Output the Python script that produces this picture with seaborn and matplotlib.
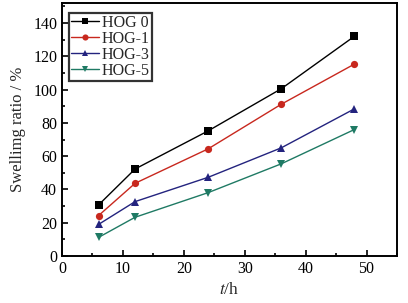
import matplotlib
matplotlib.use("Agg")
import matplotlib.pyplot as plt
import seaborn as sns
import pandas as pd
from matplotlib.ticker import MultipleLocator

# swelling data
t_h = [6, 12, 24, 36, 48]
hog0 = [30.7, 52.3, 75.2, 100.5, 132.0]
hog1 = [24.3, 43.7, 64.4, 91.2, 115.3]
hog3 = [19.0, 32.7, 47.3, 65.0, 88.4]
hog5 = [11.2, 23.3, 38.1, 55.4, 76.0]
names = ["HOG 0", "HOG-1", "HOG-3", "HOG-5"]

rows = []
for name, vals in zip(names, [hog0, hog1, hog3, hog5]):
    for t, v in zip(t_h, vals):
        rows.append({"t": t, "ratio": v, "sample": name})
df = pd.DataFrame(rows)

sns.set_style("ticks")
plt.rcParams["font.family"] = ["Liberation Serif", "DejaVu Serif"]
plt.rcParams["mathtext.fontset"] = "stix"

fig = plt.figure(figsize=(4.08, 3.03), dpi=100)
ax = fig.add_axes([0.152, 0.155, 0.821, 0.835])

palette = {"HOG 0": "#000000", "HOG-1": "#c8281e", "HOG-3": "#23237e", "HOG-5": "#1f7a64"}
markers = {"HOG 0": "s", "HOG-1": "o", "HOG-3": "^", "HOG-5": "v"}
sns.lineplot(data=df, x="t", y="ratio", hue="sample", style="sample",
             palette=palette, markers=markers, dashes=False,
             markersize=5.2, linewidth=1, markeredgewidth=0, ax=ax)

ax.set_xlim(0, 55)
ax.set_ylim(0, 152)
ax.xaxis.set_major_locator(MultipleLocator(10))
ax.xaxis.set_minor_locator(MultipleLocator(5))
ax.yaxis.set_major_locator(MultipleLocator(20))
ax.yaxis.set_minor_locator(MultipleLocator(10))
ax.tick_params(which="both", direction="in", top=False, right=False,
               labelsize=11.5, colors="black")
ax.tick_params(which="major", length=4.5, width=1.2)
ax.tick_params(which="minor", length=2.5, width=1.2)
for s in ax.spines.values():
    s.set_linewidth(1.4)
    s.set_color("black")

ax.set_xlabel("$t$/h", fontsize=12.5, labelpad=4)
ax.set_ylabel("Swellimg ratio / %", fontsize=12, labelpad=5)

leg = ax.legend(loc="upper left", bbox_to_anchor=(0.021, 0.962), fontsize=11.5,
                frameon=True, fancybox=False, edgecolor="black",
                borderpad=0.15, labelspacing=0.0, markerscale=0.85,
                handlelength=1.75, handletextpad=0.15, borderaxespad=0.0)
leg.get_frame().set_linewidth(1.6)

fig.savefig("out.png", dpi=100)
